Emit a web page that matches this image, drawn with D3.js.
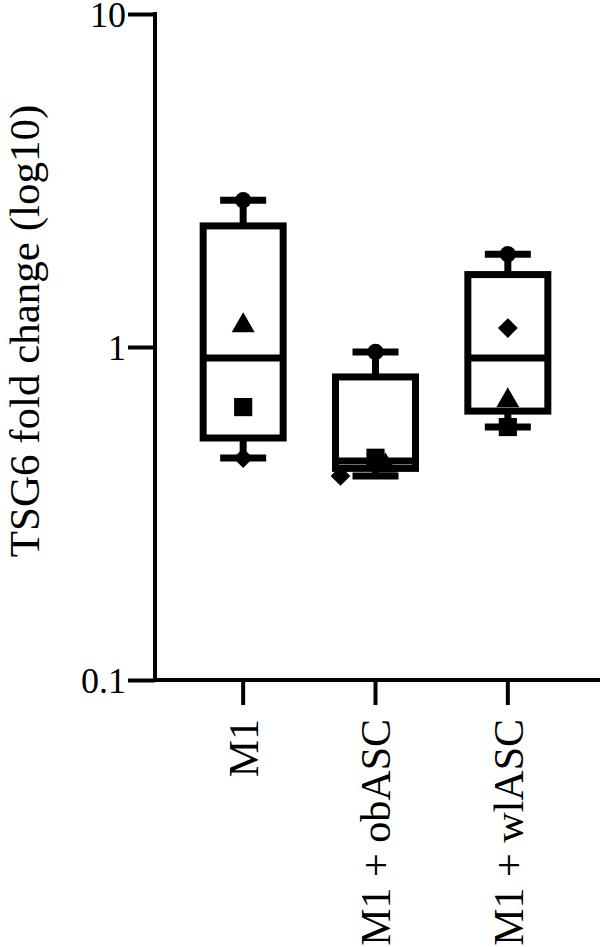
<!DOCTYPE html>
<html>
<head>
<meta charset="utf-8">
<script src="https://cdn.jsdelivr.net/npm/d3@7"></script>
<style>
  body { margin: 0; background: #fff; }
  svg text { font-family: "Liberation Serif", "DejaVu Serif", serif; fill: #000; }
</style>
</head>
<body>
<div id="chart"></div>
<script>
// groups on the x axis
const groups = ["M1", "M1 + obASC", "M1 + wlASC"];
// box statistics: [min, q1, median, q3, max]
const boxMin = [0.464, 0.41, 0.575];
const boxQ1  = [0.533, 0.432, 0.642];
const boxMed = [0.927, 0.455, 0.927];
const boxQ3  = [2.31, 0.813, 1.65];
const boxMax = [2.76, 0.966, 1.90];
// individual points: group, value, symbol, horizontal nudge (px)
const ptGroup  = ["M1", "M1", "M1", "M1",
                  "M1 + obASC", "M1 + obASC", "M1 + obASC", "M1 + obASC",
                  "M1 + wlASC", "M1 + wlASC", "M1 + wlASC", "M1 + wlASC"];
const ptValue  = [2.76, 1.16, 0.66, 0.464,
                  0.966, 0.465, 0.44, 0.41,
                  1.90, 1.14, 0.69, 0.575];
const ptSymbol = ["circle", "triangle", "square", "diamond",
                  "circle", "square", "triangle", "diamond",
                  "circle", "diamond", "triangle", "square"];
const ptNudge  = [0, 0, 0, 0,
                  0, 0, 10, -35,
                  0, 0, 0, 0];
const yTicks = [0.1, 1, 10];
const yTitle = "TSG6 fold change (log10)";

const width = 600, height = 947;
const svg = d3.select("#chart").append("svg")
  .attr("width", width).attr("height", height);

const y = d3.scaleLog().domain([0.1, 10]).range([680, 14]);
const x = d3.scaleBand().domain(groups).range([177, 574]);
const cx = g => x(g) + x.bandwidth() / 2;

const symType = {
  circle: d3.symbolCircle,
  triangle: d3.symbolTriangle,
  square: d3.symbolSquare,
  diamond: d3.symbolDiamond2 || d3.symbolDiamond
};
const symSize = { circle: 210, triangle: 230, square: 330, diamond: 250 };

// y axis
const yAxis = svg.append("g")
  .attr("transform", "translate(155,0)")
  .call(d3.axisLeft(y).tickValues(yTicks).tickSize(27).tickPadding(2)
    .tickFormat(d => d >= 1 ? d3.format("d")(d) : d3.format(".1f")(d)));
yAxis.select(".domain").remove();
yAxis.selectAll(".tick line").attr("stroke", "#000").attr("stroke-width", 4);
yAxis.selectAll(".tick text").attr("font-size", 36).attr("dy", "0.36em");
svg.append("line")
  .attr("x1", 155).attr("x2", 155).attr("y1", y(10) - 2).attr("y2", y(0.1) + 2)
  .attr("stroke", "#000").attr("stroke-width", 4);

// x axis
const xAxis = svg.append("g")
  .attr("transform", "translate(0,680)")
  .call(d3.axisBottom(x).tickSize(25).tickFormat(""));
xAxis.select(".domain").remove();
xAxis.selectAll(".tick line").attr("stroke", "#000").attr("stroke-width", 4);
svg.append("line")
  .attr("x1", 153).attr("x2", 600).attr("y1", 680).attr("y2", 680)
  .attr("stroke", "#000").attr("stroke-width", 4);

svg.selectAll("text.xlab")
  .data(groups)
  .join("text")
  .attr("class", "xlab")
  .attr("transform", d => `translate(${cx(d)},719) rotate(-90)`)
  .attr("text-anchor", "end")
  .attr("dy", "0.35em")
  .attr("font-size", 42)
  .text(d => d);

svg.append("text")
  .attr("transform", `translate(24,${y(1) - 16}) rotate(-90)`)
  .attr("text-anchor", "middle")
  .attr("dy", "0.35em")
  .attr("font-size", 43)
  .text(yTitle);

// boxes
const boxW = 80, capW = 46, sw = 7;
const boxes = svg.append("g").attr("stroke", "#000").attr("stroke-width", sw).attr("fill", "none");
groups.forEach((g, i) => {
  const c = cx(g);
  boxes.append("line").attr("x1", c).attr("x2", c).attr("y1", y(boxMax[i])).attr("y2", y(boxQ3[i]));
  boxes.append("line").attr("x1", c).attr("x2", c).attr("y1", y(boxQ1[i])).attr("y2", y(boxMin[i]));
  boxes.append("line").attr("x1", c - capW / 2).attr("x2", c + capW / 2).attr("y1", y(boxMax[i])).attr("y2", y(boxMax[i]));
  boxes.append("line").attr("x1", c - capW / 2).attr("x2", c + capW / 2).attr("y1", y(boxMin[i])).attr("y2", y(boxMin[i]));
  boxes.append("rect")
    .attr("x", c - boxW / 2).attr("width", boxW)
    .attr("y", y(boxQ3[i])).attr("height", y(boxQ1[i]) - y(boxQ3[i]))
    .attr("fill", "#fff");
  boxes.append("line").attr("x1", c - boxW / 2).attr("x2", c + boxW / 2).attr("y1", y(boxMed[i])).attr("y2", y(boxMed[i]));
});

// points
svg.append("g").selectAll("path")
  .data(ptValue.map((v, i) => ({ g: ptGroup[i], v, s: ptSymbol[i], n: ptNudge[i] })))
  .join("path")
  .attr("transform", d => `translate(${cx(d.g) + d.n},${y(d.v)})`)
  .attr("d", d => d3.symbol().type(symType[d.s]).size(symSize[d.s])())
  .attr("fill", "#000");
</script>
</body>
</html>
